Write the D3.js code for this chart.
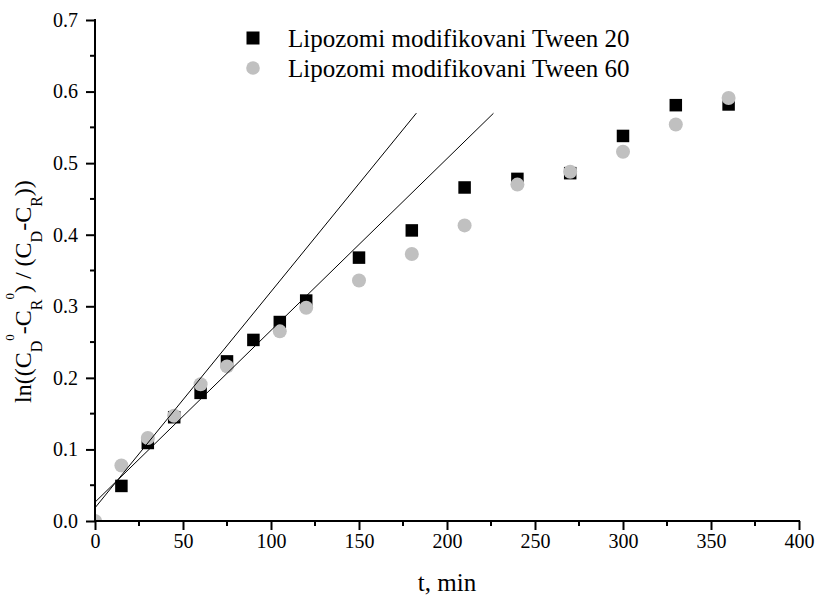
<!DOCTYPE html>
<html>
<head>
<meta charset="utf-8">
<script src="https://cdn.jsdelivr.net/npm/d3@7"></script>
<style>
  html, body { margin: 0; padding: 0; background: #fff; }
  svg { display: block; font-family: "Liberation Serif", "Times New Roman", serif; }
</style>
</head>
<body>
<svg id="chart" width="816" height="598"></svg>
<script>
// Release time points (min)
const timeTween20 = [15, 30, 45, 60, 75, 90, 105, 120, 150, 180, 210, 240, 270, 300, 330, 360];
const valueTween20 = [0.049, 0.109, 0.145, 0.179, 0.223, 0.253, 0.278, 0.308, 0.368, 0.406, 0.466, 0.478, 0.486, 0.538, 0.581, 0.582];

const timeTween60 = [0, 15, 30, 45, 60, 75, 105, 120, 150, 180, 210, 240, 270, 300, 330, 360];
const valueTween60 = [0.0, 0.0775, 0.116, 0.147, 0.191, 0.216, 0.265, 0.298, 0.336, 0.373, 0.413, 0.470, 0.488, 0.516, 0.554, 0.591];

// Linear fits of the initial region: intercept, slope, last t
const fitIntercept = [0.0184, 0.0263];
const fitSlope = [0.00302, 0.00240];
const fitEnd = [182.6, 226.4];

const seriesNames = ["Lipozomi modifikovani Tween 20", "Lipozomi modifikovani Tween 60"];
const xTicks = [0, 50, 100, 150, 200, 250, 300, 350, 400];
const yTicks = [0.0, 0.1, 0.2, 0.3, 0.4, 0.5, 0.6, 0.7];

const svg = d3.select("#chart");
const x = d3.scaleLinear().domain([0, 400]).range([95, 799]);
const y = d3.scaleLinear().domain([0, 0.7]).range([521, 20]);

const grey = "#c0c0c0";

// Plot-area clip so markers at the origin are cut by the axes
svg.append("defs").append("clipPath").attr("id", "plotClip")
  .append("rect")
  .attr("x", x(0) + 1).attr("y", y(0.7))
  .attr("width", x(400) - x(0)).attr("height", y(0) - y(0.7) - 1);

const plot = svg.append("g").attr("clip-path", "url(#plotClip)");

const sq = 12.5;
const pts20 = timeTween20.map((t, i) => [t, valueTween20[i]]);
const pts60 = timeTween60.map((t, i) => [t, valueTween60[i]]);

plot.selectAll("rect.t20").data(pts20).join("rect")
  .attr("class", "t20")
  .attr("x", d => x(d[0]) - sq / 2)
  .attr("y", d => y(d[1]) - sq / 2)
  .attr("width", sq).attr("height", sq)
  .attr("fill", "#000");

plot.selectAll("circle.t60").data(pts60).join("circle")
  .attr("class", "t60")
  .attr("cx", d => x(d[0]))
  .attr("cy", d => y(d[1]))
  .attr("r", 7)
  .attr("fill", grey);

// Fitted lines
const fitLine = d3.line().x(d => x(d[0])).y(d => y(d[1]));
fitIntercept.forEach((a, i) => {
  const b = fitSlope[i];
  const pts = [[0, a], [fitEnd[i], a + b * fitEnd[i]]];
  plot.append("path").attr("d", fitLine(pts))
    .attr("fill", "none").attr("stroke", "#000").attr("stroke-width", 1);
});

// Axes
const xAxis = d3.axisBottom(x).tickValues(xTicks).tickFormat(d3.format("d"))
  .tickSizeInner(9).tickSizeOuter(0).tickPadding(4);
const yAxis = d3.axisLeft(y).tickValues(yTicks).tickFormat(d3.format(".1f"))
  .tickSizeInner(9).tickSizeOuter(0).tickPadding(8);

const gx = svg.append("g").attr("transform", `translate(0,${y(0)})`).call(xAxis);
const gy = svg.append("g").attr("transform", `translate(${x(0)},0)`).call(yAxis);

[gx, gy].forEach(g => {
  g.attr("font-family", null);
  g.select(".domain").attr("stroke", "#000").attr("stroke-width", 2);
  g.selectAll(".tick line").attr("stroke", "#000").attr("stroke-width", 2);
  g.selectAll(".tick text").attr("fill", "#000")
    .style("font-family", "'Liberation Serif'").style("font-size", "20px");
});
gx.select(".domain").attr("d", `M${x(0) - 1},0H${x(400) + 1}`);
gy.select(".domain").attr("d", `M0,${y(0) + 1}V${y(0.7) - 1}`);

// Minor ticks
const xMinor = d3.range(25, 400, 50);
const yMinor = d3.range(0.05, 0.7, 0.1);
svg.append("g").selectAll("line").data(xMinor).join("line")
  .attr("x1", d => x(d)).attr("x2", d => x(d))
  .attr("y1", y(0)).attr("y2", y(0) + 5)
  .attr("stroke", "#000").attr("stroke-width", 2);
svg.append("g").selectAll("line").data(yMinor).join("line")
  .attr("x1", x(0)).attr("x2", x(0) - 5)
  .attr("y1", d => y(d)).attr("y2", d => y(d))
  .attr("stroke", "#000").attr("stroke-width", 2);

// Axis titles
svg.append("text")
  .attr("x", (x(0) + x(400)) / 2).attr("y", 591)
  .attr("text-anchor", "middle")
  .style("font-size", "25px")
  .text("t, min");

const yl = svg.append("text")
  .attr("transform", "translate(31,403) rotate(-90)")
  .style("font-size", "24px");
const parts = [
  ["ln((C", 0, 24], ["D", 11, 16], ["0", -28, 13], ["-C", 17, 24], ["R", 11, 16], ["0", -28, 13],
  [") / (C", 17, 24], ["D", 11, 16], ["-C", -11, 24], ["R", 11, 16], ["))", -11, 24]
];
parts.forEach(([t, dy, fs]) => {
  yl.append("tspan").attr("dy", dy).style("font-size", fs + "px").text(t);
});

// Legend
const legend = svg.append("g");
legend.append("rect")
  .attr("x", 253 - 6.5).attr("y", 38 - 6.5).attr("width", 13).attr("height", 13)
  .attr("fill", "#000");
legend.append("circle").attr("cx", 253).attr("cy", 68).attr("r", 6.8).attr("fill", grey);
seriesNames.forEach((n, i) => {
  legend.append("text").attr("x", 288).attr("y", 47 + i * 30)
    .style("font-size", "25px").text(n);
});
</script>
</body>
</html>
